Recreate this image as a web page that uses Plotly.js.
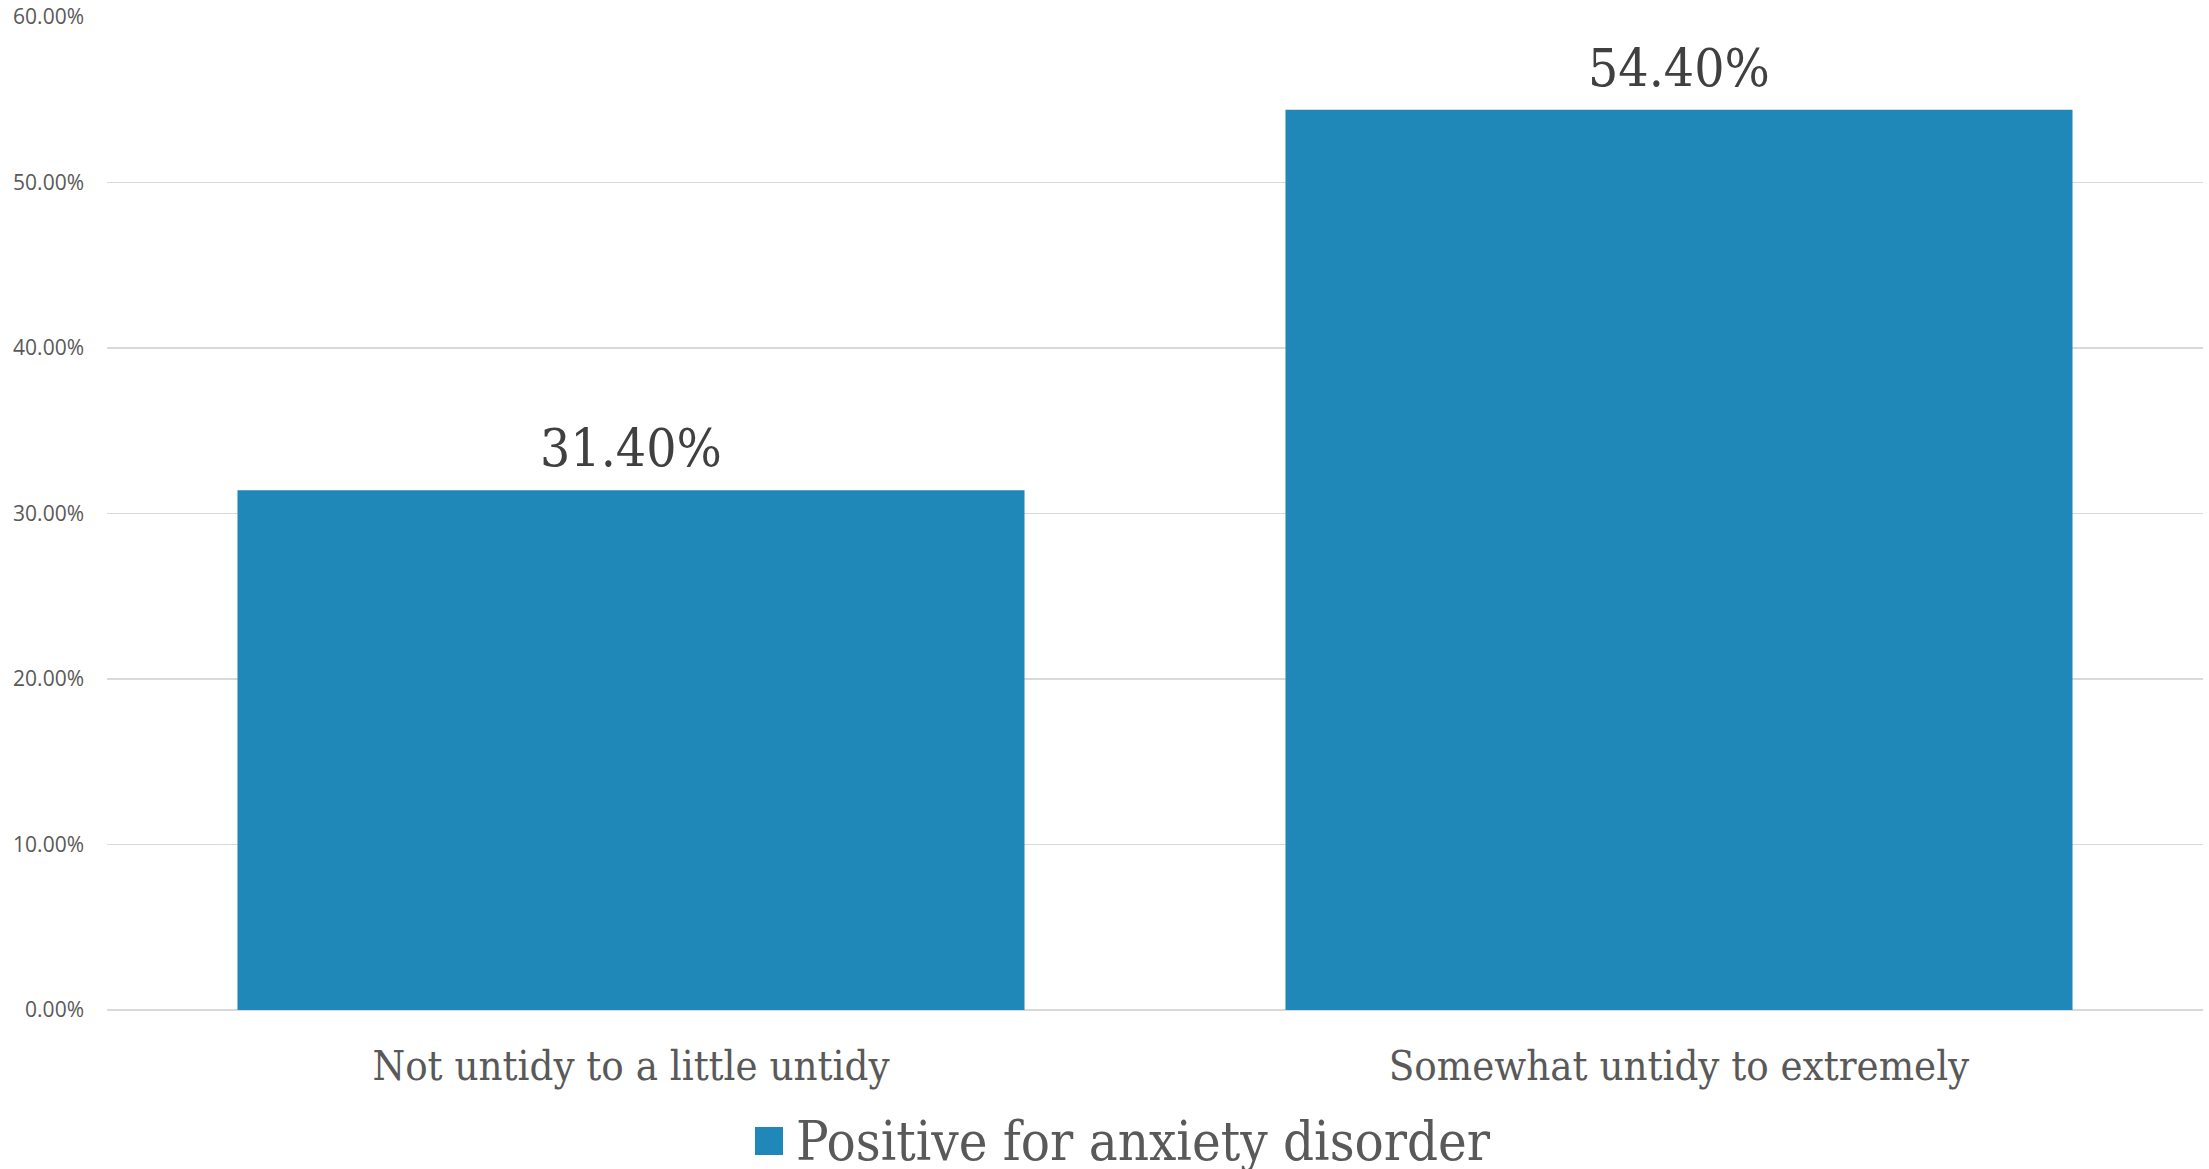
<!DOCTYPE html>
<html>
<head>
<meta charset="utf-8">
<script src="https://cdn.plot.ly/plotly-3.0.1.min.js"></script>
<style>
  html, body { margin: 0; padding: 0; background: #ffffff; }
  #chart { width: 2209px; height: 1169px; }
</style>
</head>
<body>
<div id="chart"></div>
<script>
// Share of respondents screening positive for an anxiety disorder, by self-rated untidiness
const categories = ['Not untidy to a little untidy', 'Somewhat untidy to extremely'];
const positiveShare = [0.314, 0.544];
const seriesName = 'Positive for anxiety disorder';
const yTickValues = [0, 0.1, 0.2, 0.3, 0.4, 0.5, 0.6];

const barColor = '#1f88b8';
const slabFont = '"DejaVu Serif Condensed", "DejaVu Serif", serif';
const sansFont = '"Open Sans", "Noto Sans", sans-serif';

const trace = {
  type: 'bar',
  x: categories,
  y: positiveShare,
  name: seriesName,
  marker: { color: barColor },
  hoverinfo: 'x+y',
  showlegend: false
};

// value labels sit just above each bar
const valueLabels = categories.map((c, i) => ({
  x: c,
  y: positiveShare[i],
  xref: 'x',
  yref: 'y',
  text: (positiveShare[i] * 100).toFixed(2) + '%',
  showarrow: false,
  yanchor: 'bottom',
  yshift: 10,
  font: { family: slabFont, size: 53, color: '#404040' }
}));

// legend entry drawn as a swatch plus text below the axis
const legendText = {
  x: (794 - 107) / 2096, y: -0.132, xref: 'paper', yref: 'paper',
  xanchor: 'left', yanchor: 'middle',
  text: seriesName,
  showarrow: false,
  font: { family: slabFont, size: 54, color: '#595959' }
};

const layout = {
  width: 2209,
  height: 1169,
  margin: { l: 107, r: 6, t: 17, b: 159 },
  paper_bgcolor: '#ffffff',
  plot_bgcolor: '#ffffff',
  bargap: 0.249,
  xaxis: {
    type: 'category',
    showgrid: false,
    showline: false,
    zeroline: false,
    ticks: 'outside',
    ticklen: 19,
    tickcolor: 'rgba(0,0,0,0)',
    tickfont: { family: slabFont, size: 41.5, color: '#595959' }
  },
  yaxis: {
    range: [0, 0.6],
    tickvals: yTickValues,
    tickformat: '.2%',
    showgrid: true,
    gridcolor: '#d9d9d9',
    gridwidth: 1.5,
    zeroline: true,
    zerolinecolor: '#d9d9d9',
    zerolinewidth: 2,
    showline: false,
    ticks: '',
    ticklabelstandoff: 22,
    tickfont: { family: sansFont, size: 21, color: '#595959' }
  },
  annotations: valueLabels.concat([legendText]),
  shapes: [{
    type: 'rect',
    xref: 'paper', yref: 'paper',
    x0: (755 - 107) / 2096, x1: (783 - 107) / 2096,
    y0: (1010 - 1155) / 993, y1: (1010 - 1127) / 993,
    fillcolor: barColor,
    line: { width: 0 }
  }]
};

Plotly.newPlot('chart', [trace], layout, { displayModeBar: false, staticPlot: true });
</script>
</body>
</html>
